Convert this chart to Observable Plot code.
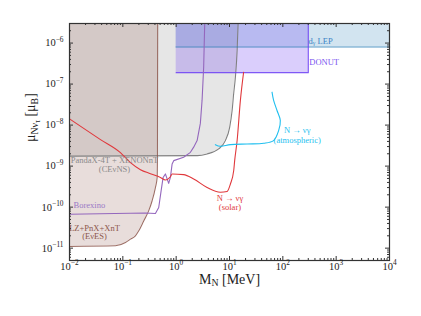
<!DOCTYPE html>
<html><head><meta charset="utf-8">
<script src="https://cdn.jsdelivr.net/npm/d3@7"></script>
<script src="https://cdn.jsdelivr.net/npm/@observablehq/plot@0.6"></script>
<style>
html,body{margin:0;padding:0;background:#fff;}
#chart svg{display:block;}
</style></head><body><div id="chart"></div>
<script>
// ---------------- data ----------------
const xTickValues = [1e-2, 1e-1, 1e0, 1e1, 1e2, 1e3, 1e4];
const xTickLabels = ["10^{−2}", "10^{−1}", "10^{0}", "10^{1}", "10^{2}", "10^{3}", "10^{4}"];
const yTickValues = [1e-11, 1e-10, 1e-9, 1e-8, 1e-7, 1e-6];
const yTickLabels = ["10^{−11}", "10^{−10}", "10^{−9}", "10^{−8}", "10^{−7}", "10^{−6}"];

const massDomain = [1e-2, 1e4];
const muDomain = [5e-12, 3e-6];
const muTop = 3e-6;

// LZ+PnX+XnT (EvES) excluded region lower boundary
const lzMass = [0.01, 0.073, 0.112, 0.139, 0.172, 0.199, 0.246, 0.306, 0.354, 0.408, 0.44, 0.445, 0.45];
const lzMu   = [1.1e-11, 1.14e-11, 1.37e-11, 1.66e-11, 2.0e-11, 2.65e-11, 4.6e-11, 8.2e-11, 1.43e-10, 3.0e-10, 5.3e-10, 1.36e-9, 3e-6];

// PandaX-4T + XENONnT (CEvNS) region lower boundary
const cevnsMass = [0.01, 2.5, 3.8, 6.27, 8.36, 10.07, 11.2, 11.97, 12.9, 13.9, 14.5];
const cevnsMu   = [1.75e-9, 1.8e-9, 1.98e-9, 2.63e-9, 4.19e-9, 8.85e-9, 2.27e-8, 5.8e-8, 1.48e-7, 6.6e-7, 3e-6];

// Borexino
const borexinoMass = [0.01, 0.265, 0.408, 0.471, 0.522, 0.569, 0.628, 0.724, 0.78, 0.84, 0.90, 1.38, 1.85, 2.13, 2.47, 2.84, 3.06, 3.28, 3.43];
const borexinoMu   = [6.7e-11, 7.2e-11, 7.0e-11, 9.8e-11, 2.5e-10, 5.3e-10, 6.45e-10, 3.8e-10, 5.3e-10, 1.13e-9, 1.36e-9, 1.64e-9, 2.17e-9, 2.9e-9, 4.2e-9, 1.1e-8, 4e-8, 2.6e-7, 3e-6];

// N -> nu gamma (solar)
const solarMass = [0.01, 0.0381, 0.0901, 0.139, 0.214, 0.329, 0.507, 0.628, 0.78, 0.84, 1.38, 2.13, 3.8, 6.75, 9.0, 10.4, 12.0, 12.5, 13.9, 16.0, 18.4];
const solarMu   = [1.42e-8, 4.43e-9, 2.13e-9, 1.22e-9, 8.2e-10, 6.55e-10, 5.3e-10, 4.6e-10, 5.5e-10, 6.4e-10, 6.2e-10, 4.85e-10, 3.0e-10, 2.3e-10, 2.4e-10, 3.66e-10, 7.8e-10, 1.36e-9, 4.2e-9, 4e-8, 1.95e-7];

// N -> nu gamma (atmospheric)
const atmMass = [5.43, 6.75, 10.4, 21.3, 43.6, 67, 83.4, 89.7, 77.8, 67.2, 62.7];
const atmMu   = [3.34e-9, 3.04e-9, 3.34e-9, 3.47e-9, 3.6e-9, 4.2e-9, 7.35e-9, 1.29e-8, 2.27e-8, 4e-8, 6.35e-8];

// LEP and DONUT boxes
const lepMass = [1, 1e4];
const lepMu = 8e-7;
const donutMass = [1, 300];
const donutMu = 1.9e-7;

// ---------------- helpers ----------------
const zip = (xs, ys) => xs.map((x, i) => ({x, y: ys[i]}));
const lzData = zip(lzMass, lzMu);
const cevnsData = zip(cevnsMass, cevnsMu);
const borexinoData = zip(borexinoMass, borexinoMu);
const solarData = zip(solarMass, solarMu);
const atmData = zip(atmMass, atmMu);
const lepBox = [{x1: lepMass[0], x2: lepMass[1], y1: lepMu, y2: muTop}];
const donutBox = [{x1: donutMass[0], x2: donutMass[1], y1: donutMu, y2: muTop}];
const donutEdge = [{x: donutMass[0], y: donutMu}, {x: donutMass[1], y: donutMu}, {x: donutMass[1], y: muTop}];
const lepEdge = [{x: lepMass[0], y: lepMu}, {x: lepMass[1], y: lepMu}];

const xMinor = [];
for (let k = -2; k < 4; k++) for (let m = 2; m <= 9; m++) xMinor.push(m * 10 ** k);
const yMinor = [];
for (let k = -12; k < -5; k++) for (let m = 2; m <= 9; m++) {
  const v = m * 10 ** k; if (v >= muDomain[0] && v <= muDomain[1]) yMinor.push(v);
}

const W = 421, H = 316, mL = 69, mR = 32, mT = 23, mB = 56;
const FH = H - mT - mB, FW = W - mL - mR;
const FONT = "'Liberation Serif', 'DejaVu Serif', serif";
const AX = "#333";

const cGray = "#808080", cBrown = "#8c564b", cBlue = "#1f77b4", cDonut = "#6a3cf5";
const cPurple = "#9467bd", cRed = "#e0383c", cCyan = "#1fbfef";

const chart = Plot.plot({
  width: W, height: H,
  marginLeft: mL, marginRight: mR, marginTop: mT, marginBottom: mB,
  style: {fontFamily: FONT, background: "#fff"},
  x: {type: "log", domain: massDomain, axis: null},
  y: {type: "log", domain: muDomain, axis: null},
  marks: [
    // regions
    Plot.areaY(cevnsData, {x: "x", y1: "y", y2: () => muTop, fill: cGray, fillOpacity: 0.2, curve: "monotone-x"}),
    Plot.areaY(lzData, {x: "x", y1: "y", y2: () => muTop, fill: cBrown, fillOpacity: 0.2, curve: "monotone-x"}),
    Plot.rect(lepBox, {x1: "x1", x2: "x2", y1: "y1", y2: "y2", fill: cBlue, fillOpacity: 0.2}),
    Plot.rect(donutBox, {x1: "x1", x2: "x2", y1: "y1", y2: "y2", fill: cDonut, fillOpacity: 0.25}),
    Plot.line(cevnsData, {x: "x", y: "y", stroke: cGray, strokeWidth: 1.1, curve: "monotone-x"}),
    Plot.line(lzData, {x: "x", y: "y", stroke: cBrown, strokeOpacity: 0.85, strokeWidth: 1.1, curve: "monotone-x"}),
    Plot.line(lepEdge, {x: "x", y: "y", stroke: cBlue, strokeOpacity: 0.5, strokeWidth: 1.6}),
    Plot.line(donutEdge, {x: "x", y: "y", stroke: cDonut, strokeOpacity: 0.85, strokeWidth: 1.2}),
    // limit lines
    Plot.line(borexinoData, {x: "x", y: "y", stroke: cPurple, strokeWidth: 1.1}),
    Plot.line(solarData, {x: "x", y: "y", stroke: cRed, strokeWidth: 1.1, curve: "monotone-x"}),
    Plot.line(atmData, {x: "x", y: "y", stroke: cCyan, strokeWidth: 1.1, curve: "catmull-rom"}),
    // annotations
    Plot.text(["PandaX-4T + XENONnT\n(CEνNS)"], {x: () => 0.0697, y: () => 1.07e-9, text: d => d, fill: "#8a8a8a", fontSize: 8.5, lineHeight: 1.05}),
    Plot.text(["Borexino"], {x: () => 0.0119, y: () => 1.08e-10, text: d => d, fill: "#9a78c6", fontSize: 8.5, textAnchor: "start"}),
    Plot.text(["LZ+PnX+XnT\n(EνES)"], {x: () => 0.0294, y: () => 2.46e-11, text: d => d, fill: cBrown, fontSize: 8.5, lineHeight: 1.05}),
    Plot.text(["N → νγ\n(solar)"], {x: () => 10.2, y: () => 1.31e-10, text: d => d, fill: cRed, fontSize: 8.5, lineHeight: 1.05}),
    Plot.text(["N → νγ\n(atmospheric)"], {x: () => 186, y: () => 5.9e-9, text: d => d, fill: cCyan, fontSize: 8.5, lineHeight: 1.15}),
    Plot.text(["DONUT"], {x: () => 313, y: () => 3.43e-7, text: d => d, fill: "#7b55f0", fontSize: 8.5, textAnchor: "start"}),
    Plot.text(["d_{γ} LEP"], {x: () => 304, y: () => 1.12e-6, text: d => d, fill: "#3d85c6", fontSize: 8.5, textAnchor: "start"}),
    // frame and ticks
    Plot.frame({stroke: AX, strokeWidth: 1.2}),
    Plot.ruleX(xTickValues, {x: d => d, insetTop: FH - 4, stroke: AX}),
    Plot.ruleX(xTickValues, {x: d => d, insetBottom: FH - 4, stroke: AX}),
    Plot.ruleX(xMinor, {x: d => d, insetTop: FH - 2, stroke: AX}),
    Plot.ruleX(xMinor, {x: d => d, insetBottom: FH - 2, stroke: AX}),
    Plot.ruleY(yTickValues, {y: d => d, insetRight: FW - 4, stroke: AX}),
    Plot.ruleY(yTickValues, {y: d => d, insetLeft: FW - 4, stroke: AX}),
    Plot.ruleY(yMinor, {y: d => d, insetRight: FW - 2, stroke: AX}),
    Plot.ruleY(yMinor, {y: d => d, insetLeft: FW - 2, stroke: AX}),
    // tick labels
    Plot.text(xTickValues, {x: d => d, frameAnchor: "bottom", dy: 9, text: (d, i) => xTickLabels[i], fontSize: 10.5, fill: "#222"}),
    Plot.text(yTickValues, {y: d => d, frameAnchor: "left", dx: -6, textAnchor: "end", text: (d, i) => yTickLabels[i], fontSize: 10.5, fill: "#222"}),
    // axis labels
    Plot.text(["M_{N} [MeV]"], {frameAnchor: "bottom", dy: 23, text: d => d, fontSize: 14, fill: "#222"}),
    Plot.text(["μ_{Nν}__{τ} [μ_{B}]"], {frameAnchor: "left", dx: -39, rotate: -90, text: d => d, fontSize: 14, fill: "#222"})
  ]
});

// convert ^{..}, _{..}, __{..} markers into real super/subscript tspans
function richify(svg) {
  const NS = "http://www.w3.org/2000/svg";
  for (const t of svg.querySelectorAll("text")) {
    const inner = Array.from(t.querySelectorAll("tspan"));
    const holders = inner.length ? inner : [t];
    const fs = parseFloat(t.getAttribute("font-size")) || parseFloat((t.closest("[font-size]") || t).getAttribute("font-size")) || 10;
    for (const h of holders) {
      const s = h.textContent;
      if (!/(\^|_)\{/.test(s)) continue;
      h.textContent = "";
      const re = /(\^\{|__\{|_\{)([^}]*)\}|([^\^_]+|[\^_])/g;
      let m, cur = 0;
      while ((m = re.exec(s))) {
        const ts = document.createElementNS(NS, "tspan");
        let target = 0, size = null;
        if (m[1] === "^{") { target = -fs * 0.42; size = fs * 0.7; ts.textContent = m[2]; }
        else if (m[1] === "_{") { target = fs * 0.2; size = fs * 0.7; ts.textContent = m[2]; }
        else if (m[1] === "__{") { target = fs * 0.38; size = fs * 0.52; ts.textContent = m[2]; }
        else { ts.textContent = m[3]; }
        if (size) ts.setAttribute("font-size", size);
        if (target !== cur) ts.setAttribute("dy", target - cur);
        cur = target;
        h.appendChild(ts);
      }
    }
  }
}
richify(chart);
document.getElementById("chart").appendChild(chart);
</script></body></html>
